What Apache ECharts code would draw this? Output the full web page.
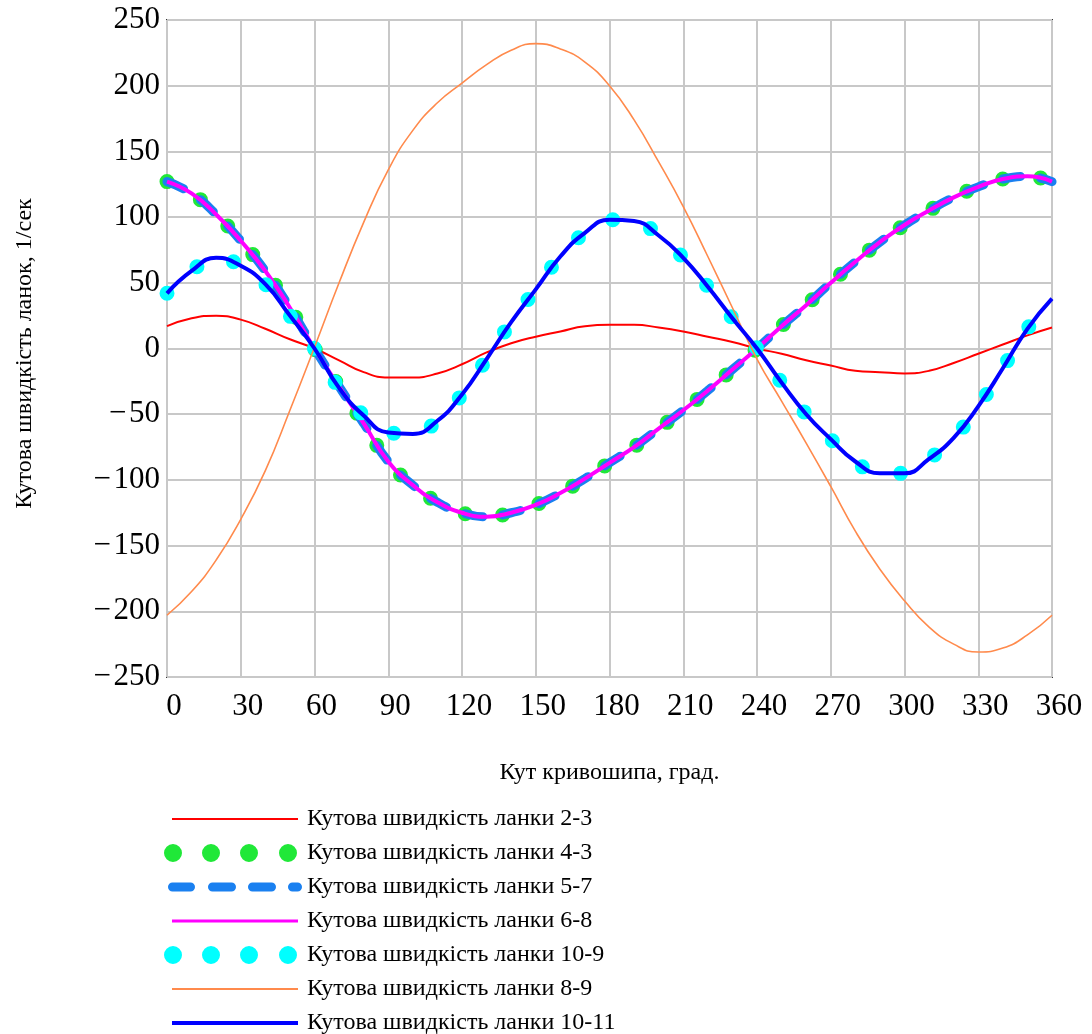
<!DOCTYPE html>
<html>
<head>
<meta charset="utf-8">
<script src="https://cdn.jsdelivr.net/npm/echarts@6/dist/echarts.min.js"></script>
<style>
  html, body { margin: 0; padding: 0; background: #fff; }
  #mainChart { width: 1092px; height: 1034px; }
</style>
</head>
<body>
<div id="mainChart"></div>
<script>
// кут кривошипа, град.
var angles = [0,10,20,30,40,50,60,70,80,90,100,110,120,130,140,150,160,170,180,
              190,200,210,220,230,240,250,260,270,280,290,300,310,320,330,340,350,360];
var xTicks = [0,30,60,90,120,150,180,210,240,270,300,330,360];
var yTicks = [-250,-200,-150,-100,-50,0,50,100,150,200,250];

// кутові швидкості ланок, 1/сек
var w23 = [17,23,25,22,15,7,0,-9,-18,-22,-22,-19,-12,-3,4,9,13,17,18,18,16,13,9,5,0,-4,-9,-13,-17,-18,-19,-17,-11,-4,3,10,16];
var w43 = [127,118,102,82,59,31,0,-29,-57,-86,-104,-117,-125,-128,-125,-119,-110,-99,-87,-75,-61,-47,-32,-16,0,17,33,50,66,81,94,105,115,123,129,131,127];
var w57 = w43;
var w68 = w43;
var w109 = [42,59,69,63,49,25,0,-30,-51,-64,-65,-55,-35,-8,20,45,70,88,98,97,86,69,47,23,0,-26,-50,-69,-86,-95,-95,-84,-68,-44,-15,15,38];
var w89 = [-203,-185,-161,-130,-93,-47,1,50,96,136,166,187,202,216,227,232,228,218,200,174,142,108,70,31,-8,-40,-72,-105,-139,-168,-192,-212,-225,-231,-228,-218,-203];
var w1011 = w109;

var names = [
  'Кутова швидкість ланки 2-3',
  'Кутова швидкість ланки 4-3',
  'Кутова швидкість ланки 5-7',
  'Кутова швидкість ланки 6-8',
  'Кутова швидкість ланки 10-9',
  'Кутова швидкість ланки 8-9',
  'Кутова швидкість ланки 10-11'
];

function pairs(vals) {
  return angles.map(function (a, i) { return [a, vals[i]]; });
}

var fontSerif = '"Liberation Serif", "DejaVu Serif", serif';

// значки легенди (рамка 138x18 задається через M0,0M138,18)
var box = 'path://M0,0M138,18';
var iconLine = function (h) {
  return box + 'M8,' + (9 - h / 2) + 'H134V' + (9 + h / 2) + 'H8Z';
};
var dot = function (cx) { return 'M' + (cx - 9) + ',9a9,9 0 1,0 18,0a9,9 0 1,0 -18,0Z'; };
var iconDots = box + dot(9) + dot(47) + dot(85) + dot(124);
var dash = function (x0, x1) {
  return 'M' + (x0 + 4.5) + ',4.5H' + (x1 - 4.5) + 'A4.5,4.5 0 0 1 ' + (x1 - 4.5) + ',13.5H' +
    (x0 + 4.5) + 'A4.5,4.5 0 0 1 ' + (x0 + 4.5) + ',4.5Z';
};
var iconDash = box + dash(4, 31) + dash(44, 72) + dash(84, 112) + dash(124, 138);

var myChart = echarts.init(document.getElementById('mainChart'));

var option = {
  animation: false,
  grid: {
    left: 167, top: 20, right: 40, bottom: 357,
    show: true, borderColor: '#333', borderWidth: 2, backgroundColor: '#fff'
  },
  xAxis: {
    type: 'value', min: 0, max: 360, interval: 30,
    name: 'Кут кривошипа, град.',
    nameLocation: 'middle', nameGap: 84,
    nameTextStyle: { fontFamily: fontSerif, fontSize: 24, color: '#000' },
    axisLine: { show: false },
    axisTick: { show: false },
    axisLabel: { fontFamily: fontSerif, fontSize: 31, color: '#000', margin: 14, padding: [0, 0, 0, 14] },
    splitLine: { show: true, lineStyle: { color: '#c8c8c8', width: 2 } }
  },
  yAxis: {
    type: 'value', min: -250, max: 250, interval: 50,
    name: 'Кутова швидкість ланок, 1/сек',
    nameLocation: 'middle', nameGap: 130, nameRotate: 90,
    nameTextStyle: { fontFamily: fontSerif, fontSize: 24, color: '#000', padding: [0, 10, 0, 0] },
    axisLine: { show: false },
    axisTick: { show: false },
    axisLabel: {
      fontFamily: fontSerif, fontSize: 31, color: '#000', margin: 7, padding: [5, 0, 0, 0],
      formatter: function (v) { return v < 0 ? '\u2212\u200A' + Math.abs(v) : String(v); }
    },
    splitLine: { show: true, lineStyle: { color: '#c8c8c8', width: 2 } }
  },
  legend: {
    orient: 'vertical',
    left: 164, top: 807, height: 240, padding: 0,
    itemWidth: 138, itemHeight: 18, itemGap: 10,
    itemStyle: { borderWidth: 0 },
    textStyle: { fontFamily: fontSerif, fontSize: 24, color: '#000' },
    data: [
      { name: names[0], icon: iconLine(2) },
      { name: names[1], icon: iconDots },
      { name: names[2], icon: iconDash },
      { name: names[3], icon: iconLine(3) },
      { name: names[4], icon: iconDots },
      { name: names[5], icon: iconLine(2) },
      { name: names[6], icon: iconLine(4) }
    ]
  },
  series: [
    { name: names[0], type: 'line', data: pairs(w23), smooth: true, symbol: 'none', color: '#ff0000',
      lineStyle: { color: '#ff0000', width: 2 } },
    { name: names[1], type: 'line', data: pairs(w43), smooth: true, symbol: 'none', color: '#20e838',
      lineStyle: { color: '#20e838', width: 15, type: [0, 38], cap: 'round' } },
    { name: names[2], type: 'line', data: pairs(w57), smooth: true, symbol: 'none', color: '#1a80f0',
      lineStyle: { color: '#1a80f0', width: 9, type: [18, 20], cap: 'round' } },
    { name: names[3], type: 'line', data: pairs(w68), smooth: true, symbol: 'none', color: '#ff00ff',
      lineStyle: { color: '#ff00ff', width: 4 } },
    { name: names[4], type: 'line', data: pairs(w109), smooth: true, symbol: 'none', color: '#00ffff',
      lineStyle: { color: '#00ffff', width: 15, type: [0, 40], cap: 'round' } },
    { name: names[5], type: 'line', data: pairs(w89), smooth: true, symbol: 'none', color: '#ff8a4c',
      lineStyle: { color: '#ff8a4c', width: 1.6 } },
    { name: names[6], type: 'line', data: pairs(w1011), smooth: true, symbol: 'none', color: '#0000ff',
      lineStyle: { color: '#0000ff', width: 4 } }
  ]
};

myChart.setOption(option);
</script>
</body>
</html>
